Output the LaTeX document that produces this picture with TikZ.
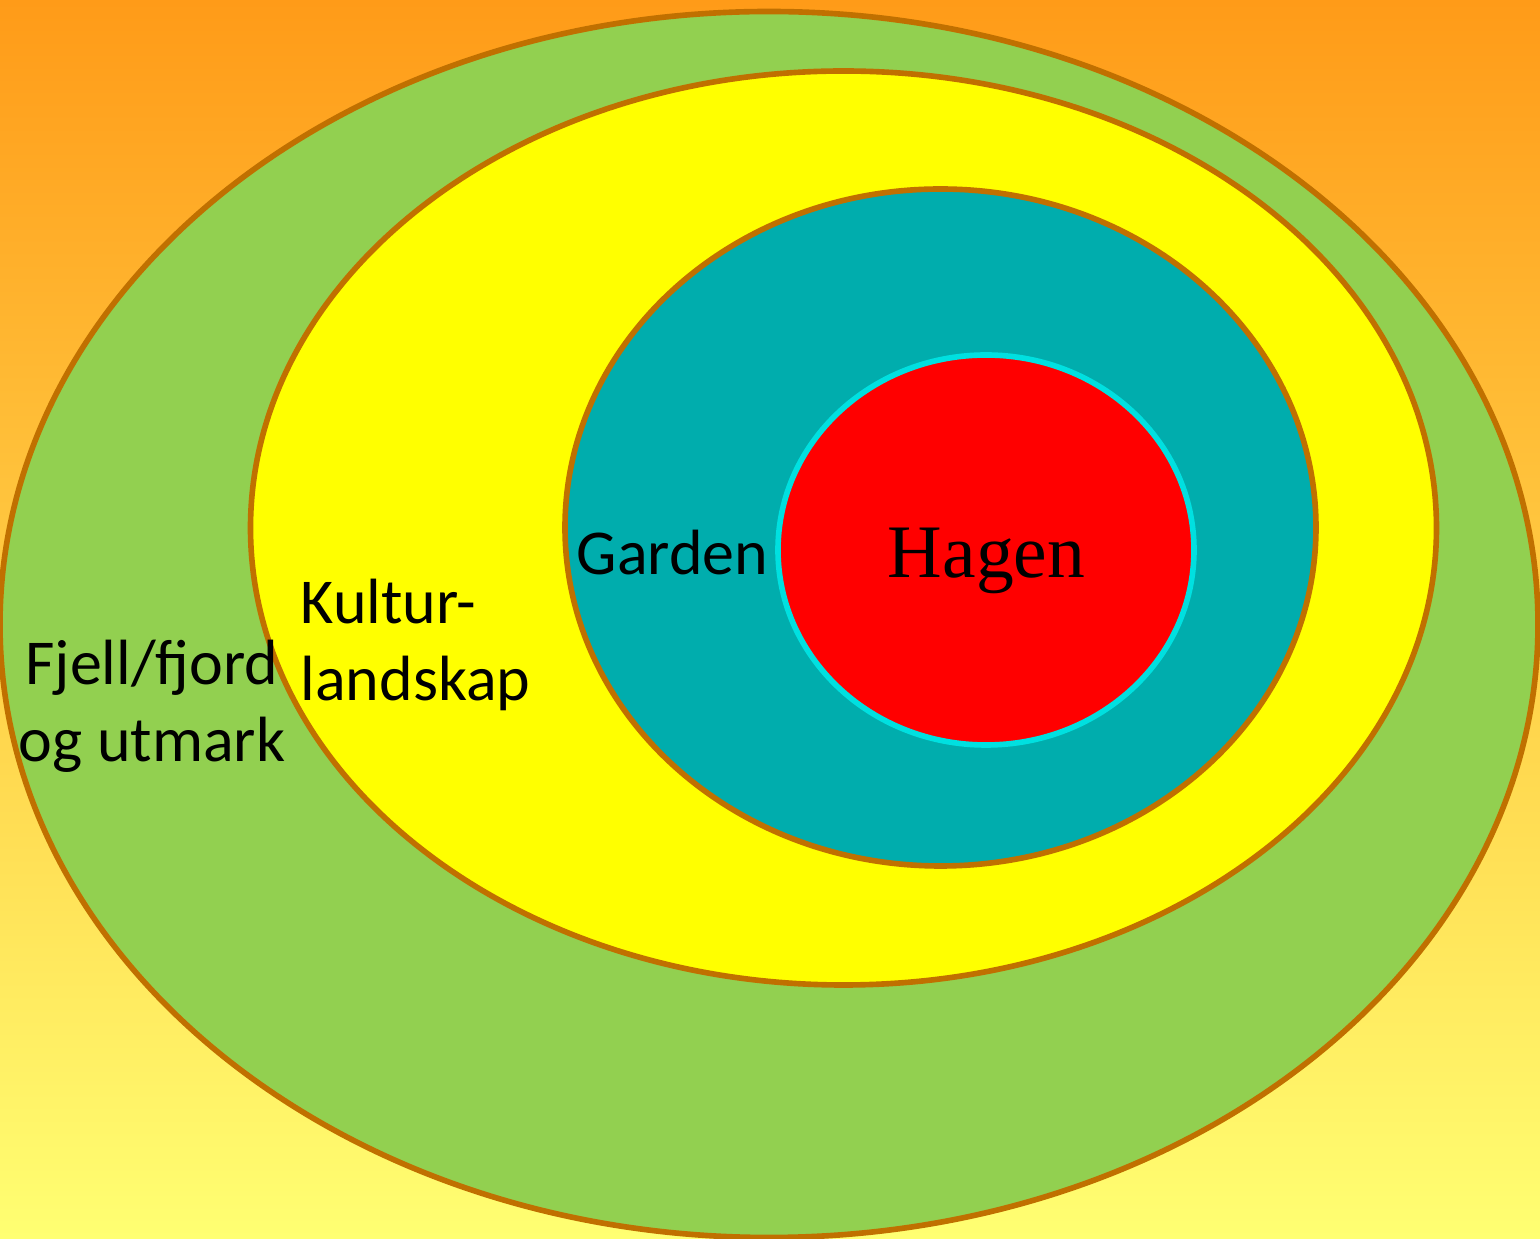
\documentclass[tikz,border=0pt]{standalone}
\usepackage{fontspec}
\setmainfont{Liberation Serif}
\newfontfamily\zonefont{Carlito}
\usepackage{xcolor}
\usepackage{tikz}
\usetikzlibrary{backgrounds}
\definecolor{zoneSkyTop}{HTML}{FF9B18}
\definecolor{zoneSkyBottom}{HTML}{FFFF72}
\definecolor{zoneEdge}{HTML}{C07000}
\definecolor{zoneFjell}{HTML}{92D050}
\definecolor{zoneKultur}{HTML}{FFFF00}
\definecolor{zoneGarden}{HTML}{00ADAD}
\definecolor{zoneHagen}{HTML}{FF0000}
\definecolor{zoneHagenEdge}{HTML}{00E0E0}
\tikzset{
  zone diagram/.style={line join=round},
  zone ring/.style={draw=zoneEdge, line width=1.6pt},
  zone core/.style={draw=zoneHagenEdge, fill=zoneHagen, line width=1.6pt},
  zone label/.style={font=\zonefont\fontsize{18.2}{21.9}\selectfont, text=black, inner sep=0pt},
  zone title/.style={font=\fontsize{21.5}{25}\selectfont, text=black, inner sep=0pt}
}
\begin{document}
\begin{tikzpicture}[zone diagram]
\useasboundingbox (0,0) rectangle (15.4,-12.39);
\shade[top color=zoneSkyTop, bottom color=zoneSkyBottom] (0,0) rectangle (15.4,-12.39);
% rings from outside in
\filldraw[zone ring, fill=zoneFjell] (7.69,-6.245) ellipse [x radius=7.69, y radius=6.13];
\filldraw[zone ring, fill=zoneKultur] (8.435,-5.28) ellipse [x radius=5.93, y radius=4.57];
\filldraw[zone ring, fill=zoneGarden] (9.405,-5.275) ellipse [x radius=3.755, y radius=3.385];
\filldraw[zone core] (9.86,-5.50) ellipse [x radius=2.08, y radius=1.95];
% labels
\node[zone title] (hagen) at (9.865,-5.61) {Hagen};
\node[zone label, anchor=base west] (garden) at (5.76,-5.75) {Garden};
\node[zone label, anchor=north west, align=left] (kultur) at (3.00,-5.78) {Kultur-\\landskap};
\node[zone label, anchor=north, align=center] (fjell) at (1.52,-6.39) {Fjell/fjord\\og utmark};
\end{tikzpicture}
\end{document}
